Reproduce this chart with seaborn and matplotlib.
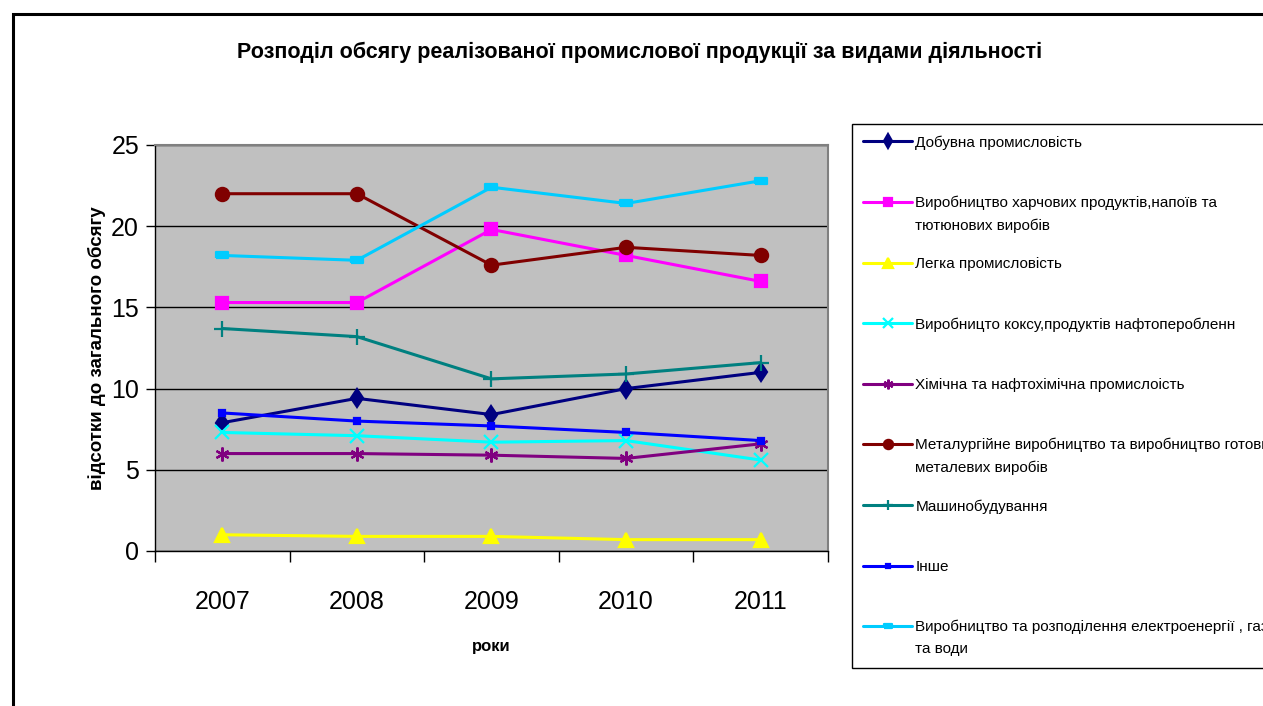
import matplotlib
matplotlib.use("Agg")
import matplotlib.pyplot as plt
import seaborn as sns
from matplotlib.patches import Rectangle
from matplotlib.ticker import FixedLocator

# %%
years = [2007, 2008, 2009, 2010, 2011]

dobuvna = [7.9, 9.4, 8.4, 10.0, 11.0]
harchova = [15.3, 15.3, 19.8, 18.2, 16.6]
legka = [1.0, 0.9, 0.9, 0.7, 0.7]
koks = [7.3, 7.1, 6.7, 6.8, 5.6]
khimichna = [6.0, 6.0, 5.9, 5.7, 6.6]
metalurgiya = [22.0, 22.0, 17.6, 18.7, 18.2]
mashyno = [13.7, 13.2, 10.6, 10.9, 11.6]
inshe = [8.5, 8.0, 7.7, 7.3, 6.8]
elektro = [18.2, 17.9, 22.4, 21.4, 22.8]

series_names = [
    "Добувна промисловість",
    "Виробництво харчових продуктів,напоїв та\nтютюнових виробів",
    "Легка промисловість",
    "Виробницто коксу,продуктів нафтоперобленн",
    "Хімічна та нафтохімічна промислоість",
    "Металургійне виробництво та виробництво готових\nметалевих виробів",
    "Машинобудування",
    "Інше",
    "Виробництво та розподілення електроенергії , газу\nта води",
]
series_values = [dobuvna, harchova, legka, koks, khimichna,
                 metalurgiya, mashyno, inshe, elektro]

title = "Розподіл обсягу реалізованої промислової продукції за видами діяльності"
y_title = "відсотки до загального обсягу"
x_title = "роки"

# %%
colors = ["#000080", "#FF00FF", "#FFFF00", "#00FFFF", "#800080",
          "#800000", "#008080", "#0000FF", "#00CCFF"]
flat_bar = [(-1, -0.45), (1, -0.45), (1, 0.45), (-1, 0.45), (-1, -0.45)]
markers = ["d", "s", "^", "x", (6, 2, 0), "o", "+", "s", flat_bar]
marker_sizes = [9.5, 8.5, 10, 10, 10, 9.5, 11, 5, 9]

sns.set_style("white")
plt.rcParams["font.family"] = ["Liberation Sans", "DejaVu Sans"]
plt.rcParams["text.color"] = "black"
plt.rcParams["axes.labelcolor"] = "black"
plt.rcParams["xtick.color"] = "black"
plt.rcParams["ytick.color"] = "black"

fig = plt.figure(figsize=(12.63, 7.06), dpi=100)
ax = fig.add_axes([155 / 1263, 1 - 551 / 706, (828 - 155) / 1263, (551 - 145) / 706])
ax.set_facecolor("#C0C0C0")

for name, vals, col, mk, ms in zip(series_names, series_values, colors, markers, marker_sizes):
    sns.lineplot(
        x=years,
        y=vals,
        ax=ax,
        color=col,
        marker=mk,
        markersize=ms,
        markeredgecolor=col,
        markerfacecolor=col,
        markeredgewidth=1.6,
        linewidth=2.2,
        label=name,
    )

ax.set_xlim(2006.5, 2011.5)
ax.set_ylim(0, 25)
ax.set_yticks([0, 5, 10, 15, 20, 25])
ax.set_xticks(years)
ax.xaxis.set_minor_locator(FixedLocator([y - 0.5 for y in years] + [2011.5]))
ax.yaxis.grid(True, color="black", linewidth=1)
ax.set_axisbelow(True)

for side in ["top", "right"]:
    ax.spines[side].set_color("#808080")
    ax.spines[side].set_linewidth(1.5)
for side in ["left", "bottom"]:
    ax.spines[side].set_color("black")
    ax.spines[side].set_linewidth(1)

ax.tick_params(axis="y", which="major", direction="out", length=6.5, width=1,
               left=True, labelsize=18, pad=5)
ax.tick_params(axis="x", which="major", length=0, labelsize=18, pad=28)
ax.tick_params(axis="x", which="minor", direction="out", length=8, width=1,
               bottom=True, color="black")

ax.set_ylabel(y_title, fontsize=13.5, fontweight="bold", labelpad=4)
ax.set_xlabel(x_title, fontsize=12, fontweight="bold", labelpad=18)

fig.text(640 / 1263, 1 - 52 / 706, title, ha="center", va="center",
         fontsize=15.5, fontweight="bold")

# legend on the right
handles, labels = ax.get_legend_handles_labels()
ax.get_legend().remove()
labels = [lab if "\n" in lab else lab + "\n" for lab in labels]
leg = fig.legend(
    handles, labels,
    loc="upper left",
    bbox_to_anchor=(852 / 1263, 1 - 124 / 706),
    fontsize=11,
    frameon=True,
    fancybox=False,
    edgecolor="black",
    framealpha=1,
    borderpad=0.75,
    handlelength=3.2,
    handletextpad=0.2,
    handleheight=1.0,
    labelspacing=1.56,
    borderaxespad=0,
)
leg.get_frame().set_linewidth(1)
for t in leg.get_texts():
    t.set_linespacing(1.75)
for col in leg._legend_handle_box.get_children():
    for item in col.get_children():
        item.align = "top"
for h in leg.legend_handles:
    h.set_markersize(h.get_markersize() * 0.7)

# outer chart frame
fig.patches.append(Rectangle((13 / 1263, -0.1), 1.2, 1.1 - 14 / 706,
                             transform=fig.transFigure, fill=False,
                             edgecolor="black", linewidth=2.2))

plt.savefig("out.png", dpi=100)
plt.close()
